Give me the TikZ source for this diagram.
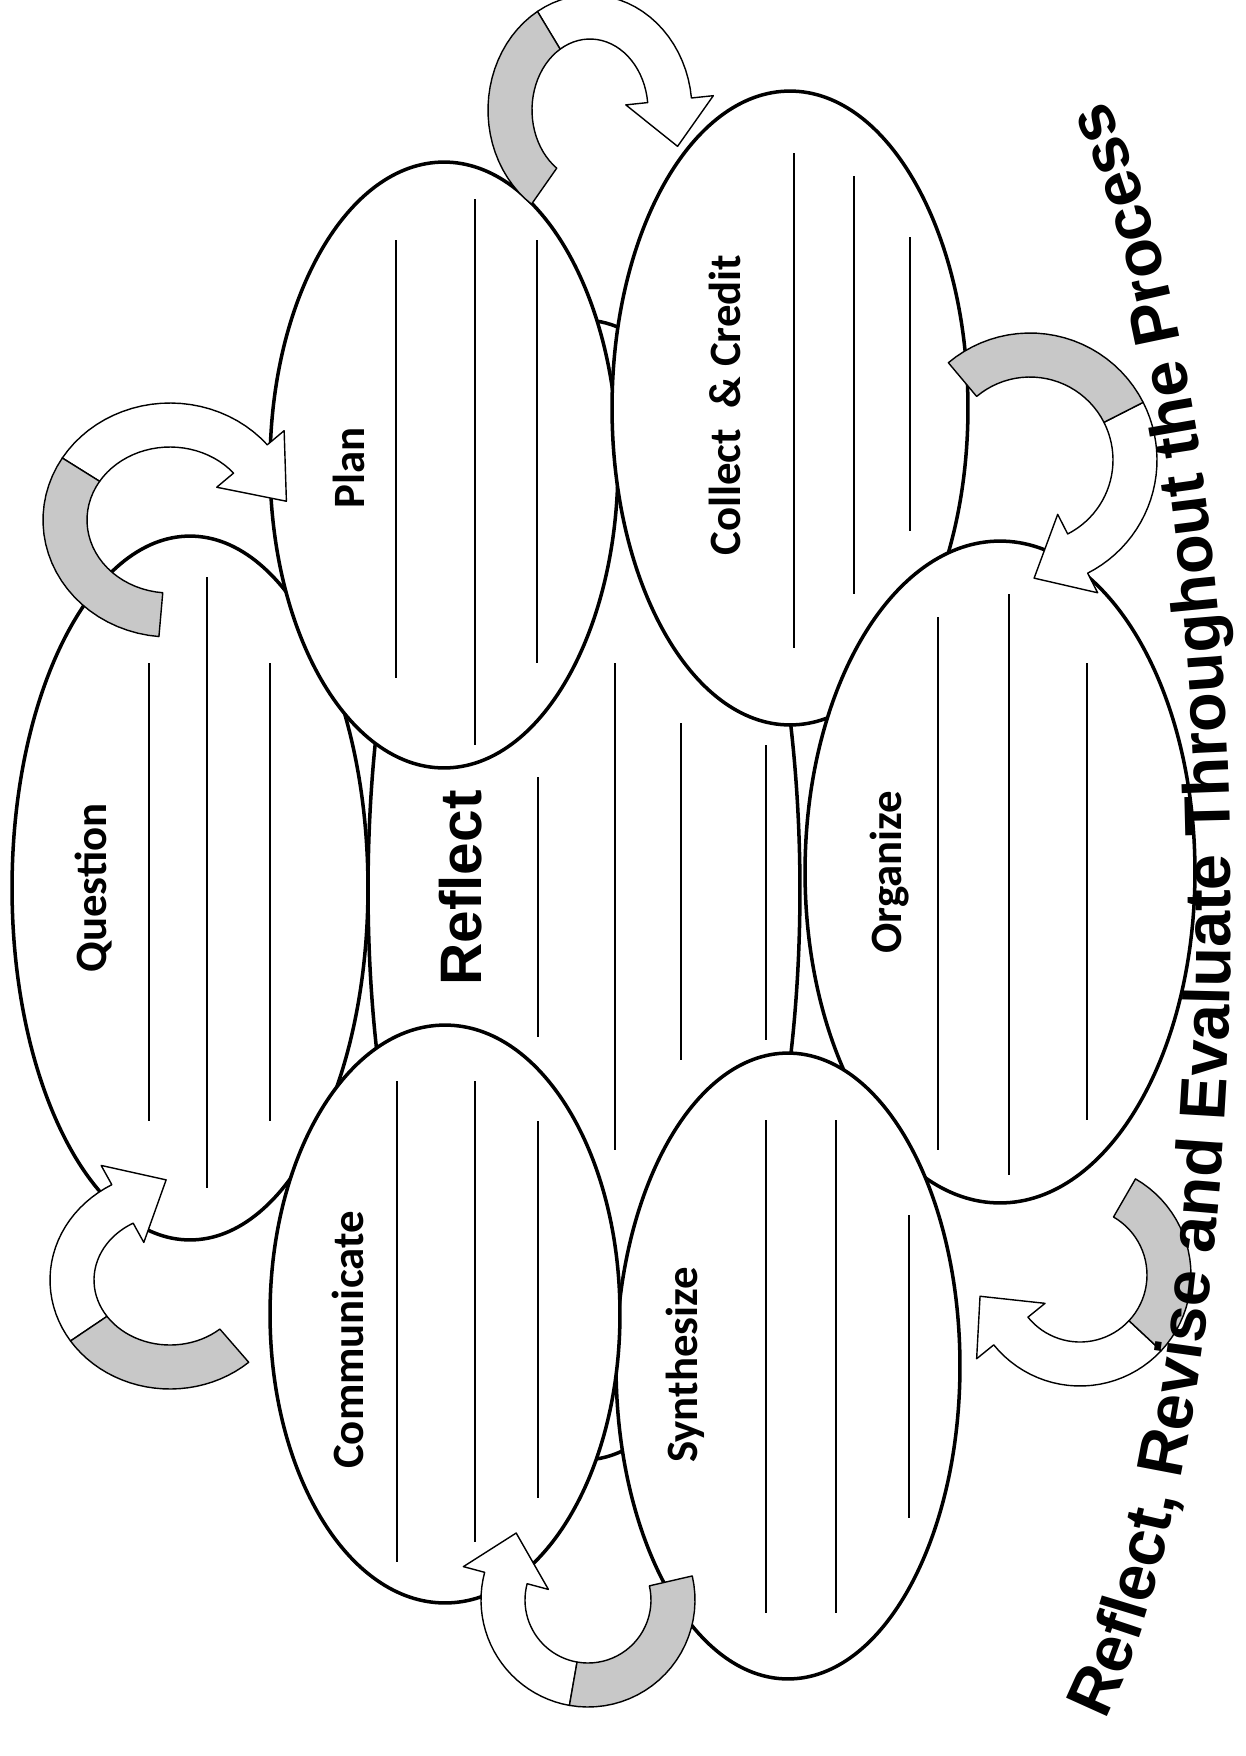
\documentclass[tikz,border=0pt]{standalone}
\usepackage{fontspec}
\setmainfont{Liberation Sans}
\newfontfamily\calibri{Carlito}
\usepackage{tikz}
\usetikzlibrary{
	shapes.geometric,
	decorations.text,
	positioning
}
\definecolor{RibbonGrey}{RGB}{200,200,200}
\tikzset{
	bubble/.style={ellipse, draw, line width=2pt, fill=white, inner sep=0pt},
	writeline/.style={line width=1.1pt},
	steplabel/.style={rotate=90, inner sep=0pt, font=\calibri\bfseries\fontsize{25.5}{30}\selectfont},
	ribbonfront/.style={fill=white, draw, line width=0.8pt, line join=round},
	ribbonback/.style={fill=RibbonGrey, draw, line width=0.8pt, line join=round}
}
\newcommand{\ribbon}[9]{%
	\filldraw[ribbonfront]
		plot[domain=#6:#7] ({#1+(#3+#9)*cos(\x)},{#2+(#4+#9)*sin(\x)})
		-- ({#1+(#3+2*#9)*cos(#7)},{#2+(#4+2*#9)*sin(#7)})
		-- ({#1+(#3+0.6*#9)*cos(#8)},{#2+(#4+0.6*#9)*sin(#8)})
		-- ({#1+(#3-2*#9)*cos(#7)},{#2+(#4-2*#9)*sin(#7)})
		-- plot[domain=#7:#6] ({#1+(#3-#9)*cos(\x)},{#2+(#4-#9)*sin(\x)})
		-- cycle;
	\filldraw[ribbonback]
		plot[domain=#5:#6] ({#1+(#3+#9)*cos(\x)},{#2+(#4+#9)*sin(\x)})
		-- plot[domain=#6:#5] ({#1+(#3-#9)*cos(\x)},{#2+(#4-#9)*sin(\x)})
		-- cycle;
}

\begin{document}
\begin{tikzpicture}[x=0.02cm, y=-0.02cm]
			\useasboundingbox (0,0) rectangle (1246,1756);
			
			\node[bubble, minimum width=8.64cm, minimum height=22.8cm] (reflect) at (584,890) {};
			\node[bubble, minimum width=7.12cm, minimum height=14.08cm] (question) at (190,888) {};
			\node[bubble, minimum width=6.96cm, minimum height=12.12cm] (plan) at (444,465) {};
			\node[bubble, minimum width=7.12cm, minimum height=12.68cm] (collect) at (790,408) {};
			\node[bubble, minimum width=7.8cm, minimum height=13.24cm] (organize) at (1000,872) {};
			\node[bubble, minimum width=6.88cm, minimum height=12.52cm] (synthesize) at (788,1366) {};
			\node[bubble, minimum width=7.0cm, minimum height=11.56cm] (communicate) at (445,1314) {};
			
			\draw[writeline] (538,777) -- (538,1037) (615,663) -- (615,1150) (681,723) -- (681,1060) (766,745) -- (766,1040);
			\draw[writeline] (149,663) -- (149,1121) (207,577) -- (207,1188) (270,663) -- (270,1121);
			\draw[writeline] (396,240) -- (396,678) (475,199) -- (475,745) (537,240) -- (537,663);
			\draw[writeline] (794,153) -- (794,648) (854,176) -- (854,594) (910,237) -- (910,531);
			\draw[writeline] (938,617) -- (938,1150) (1009,594) -- (1009,1175) (1087,663) -- (1087,1120);
			\draw[writeline] (766,1120) -- (766,1613) (836,1120) -- (836,1613) (909,1215) -- (909,1518);
			\draw[writeline] (397,1081) -- (397,1562) (475,1081) -- (475,1542) (538,1121) -- (538,1498);
			
			\node[rotate=90, inner sep=0pt, font=\bfseries\fontsize{33.3}{38}\selectfont] (reflecttext) at (461,888) {Reflect};
			\node[steplabel] (questiontext) at (94,888) {Question};
			\node[steplabel] (plantext) at (349,468) {Plan};
			\node[steplabel] (collecttext) at (725,405) {Collect\ \ \& Credit};
			\node[steplabel] (organizetext) at (890,872) {Organize};
			\node[steplabel] (synthesizetext) at (685,1365) {Synthesize};
			\node[steplabel] (communicatetext) at (348,1340) {Communicate};
			
			\ribbon{170}{520}{105}{95}{95}{212}{320}{350}{22}
			\ribbon{590}{110}{80}{93}{125}{239}{354}{380}{22}
			\ribbon{1030}{460}{105}{105}{230}{333}{423}{448}{22}
			\ribbon{1080}{1275}{89}{89}{-60}{43}{141}{168}{22}
			\ribbon{588}{1600}{85}{85}{-13}{100}{195}{223}{22}
			\ribbon{170}{1280}{98}{87}{49}{146}{241}{268}{22}
			
			\path[decorate, decoration={text along path, text align=center,
				text={|\bfseries\fontsize{37}{40}\selectfont|Reflect, Revise and Evaluate Throughout the Process}}]
				plot[domain=78:-78, samples=60] ({1001+230*cos(\x)},{910+910*sin(\x)});
		\end{tikzpicture}
\end{document}
